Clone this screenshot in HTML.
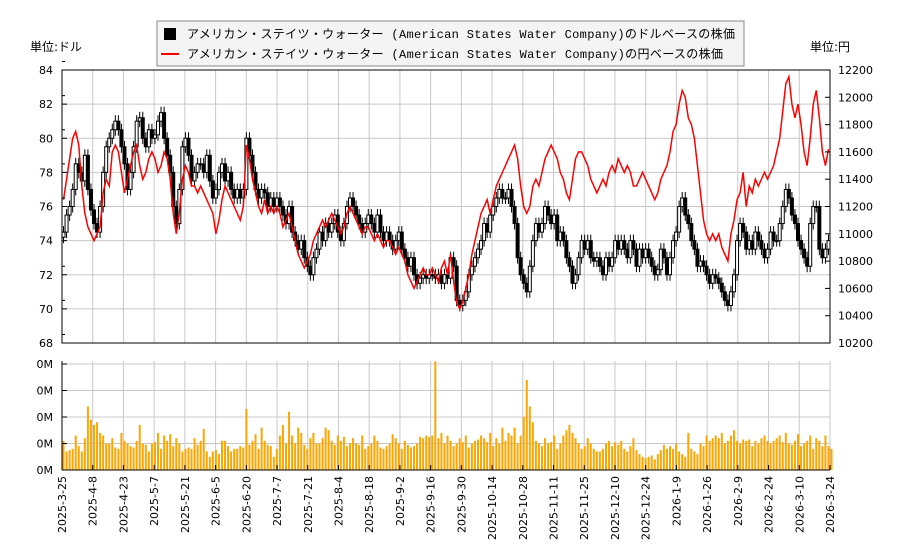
<!DOCTYPE html>
<html><head><meta charset="utf-8"><style>
body{margin:0;background:#fff;}
svg text{font-family:"DejaVu Sans","Noto Sans CJK JP",sans-serif;font-size:11px;fill:#000;}
</style></head><body>
<svg id="c" width="900" height="550" xmlns="http://www.w3.org/2000/svg"></svg>
<script>
const dates=["2025-3-25","2025-4-8","2025-4-23","2025-5-7","2025-5-21","2025-6-5","2025-6-20","2025-7-7","2025-7-21","2025-8-4","2025-8-18","2025-9-2","2025-9-16","2025-9-30","2025-10-14","2025-10-28","2025-11-11","2025-11-25","2025-12-10","2025-12-24","2026-1-9","2026-1-26","2026-2-9","2026-2-24","2026-3-10","2026-3-24"];
const usdTicks=[68,70,72,74,76,78,80,82,84];
const jpyTicks=[10200,10400,10600,10800,11000,11200,11400,11600,11800,12000,12200];
const volTicks=["0M","0M","0M","0M","0M"];
const closeUSD=[74.5,75.5,76,77,78.5,78,77.5,79,77,75.8,75,74.5,76,78,79.5,80,80.5,81,80.5,79.5,78.5,77,78,79.5,81,81.2,80,79.5,80.5,80,80.2,81,81.5,80,79,78,76,75,77,79.5,80,79,77.5,78,78.5,78.5,78,79,77.5,76.5,77,78,78.5,77.5,78,77,76.5,77,76.5,77,80,79,78,77,76.5,77,76.8,76,76.5,76,76.5,76,75.5,75,76,74.5,74,73.5,74,73,72.5,72,73,73.5,74.5,74,75,74.5,75,75.5,74.5,74,75,76,76.5,76,75.5,75,74.5,75,75.5,75,74.5,75.5,74.5,74,74.5,74,73.5,74,74.5,73.5,73,72.5,73,72,71.5,71.8,72,71.8,72,72,71.8,72,71.5,72,71.8,73,72.5,70.5,70.2,70.5,71,72,72.5,73,73.5,74,75,74.5,75.5,76,76.5,77,76.5,76.5,77,76,75,73,72,71.5,71,72.5,74,75,74.5,75,76,75.5,75,75.5,74,74.5,74,73,72.5,71.5,72,73,74,73.5,74,73,72.8,73,72.5,72,73,72.5,73,74,73.5,74,73.5,73,74,73.5,72.5,73.5,73,73.5,73,72.5,72,72.3,73.5,73,72,73,74,74.5,76,76.5,75.5,75,74,73.5,72.5,72.8,72.5,72,71.5,72,71.8,71.5,71,70.5,70.2,71,72,74,75,74.5,73.5,74,73.5,74.5,74,73.5,73,73.5,74.5,74,74,75,76,77,76.5,75.5,75,74,73.5,73,72.5,75,76,76,73.5,73,73.5,74];
const closeJPY=[11250,11400,11550,11700,11750,11650,11350,11150,11050,11000,10950,11000,11050,11300,11400,11350,11600,11650,11600,11450,11300,11400,11500,11600,11650,11500,11400,11450,11550,11600,11550,11450,11500,11600,11550,11400,11150,11000,11150,11400,11500,11450,11350,11350,11300,11350,11300,11250,11200,11150,11000,11100,11250,11350,11300,11250,11200,11150,11100,11200,11650,11550,11400,11300,11200,11150,11250,11150,11200,11150,11200,11150,11050,11100,11150,11050,10950,10850,10800,10750,10800,10850,10950,11000,11050,11100,11050,11100,11150,11100,11050,11000,11050,11150,11200,11150,11100,11050,11000,11050,11050,11000,10950,11000,10950,10900,10950,10950,10900,10850,10900,10850,10800,10700,10650,10600,10650,10700,10750,10700,10700,10750,10700,10650,10750,10800,10700,10850,10650,10500,10450,10500,10600,10700,10850,10950,11050,11150,11200,11250,11150,11250,11350,11400,11450,11500,11550,11600,11650,11550,11350,11200,11150,11200,11350,11400,11350,11450,11550,11600,11650,11600,11550,11450,11400,11300,11250,11400,11550,11600,11600,11550,11500,11400,11350,11300,11350,11400,11350,11450,11500,11450,11550,11500,11450,11500,11450,11350,11350,11400,11450,11400,11350,11300,11250,11300,11400,11450,11500,11600,11750,11800,11950,12050,12000,11850,11800,11700,11500,11300,11100,11000,10950,11000,10950,11000,10900,10850,10800,11000,11100,11250,11300,11450,11200,11350,11300,11400,11350,11400,11450,11400,11450,11500,11600,11700,11900,12100,12150,11950,11850,11950,11800,11600,11500,11700,11950,12050,11850,11600,11500,11620];
const volume=[1.1,0.7,0.75,0.8,1.3,0.9,0.7,1.2,2.4,1.9,1.7,1.8,1.4,1.3,1.0,1.0,1.2,0.85,0.8,1.4,1.1,1.0,0.9,0.85,1.1,1.7,1.0,0.95,0.7,1.0,1.05,1.4,0.8,1.3,1.1,1.35,0.9,1.2,1.0,0.7,0.8,0.85,0.8,1.2,0.95,1.1,1.55,0.7,0.5,0.7,0.75,0.6,1.1,1.1,0.9,0.7,0.8,0.8,0.9,0.85,2.3,0.95,1.1,1.35,0.8,1.6,1.1,0.95,0.9,0.5,0.8,1.3,1.7,1.0,2.2,1.3,1.0,1.6,1.4,0.95,0.8,1.2,1.4,1.0,1.0,1.2,1.6,1.5,1.1,0.95,1.3,1.1,1.25,0.9,1.0,1.2,1.0,0.95,1.3,0.8,0.9,1.0,1.3,1.1,0.85,0.8,0.9,1.0,1.35,1.2,1.0,0.8,1.1,0.95,0.85,0.9,1.0,1.25,1.2,1.3,1.25,1.3,4.1,1.2,1.4,1.0,1.3,1.1,0.9,1.0,1.2,1.05,1.3,0.85,1.0,1.1,1.15,1.3,1.2,1.05,1.4,0.9,1.2,1.0,1.6,1.1,1.4,1.3,1.6,1.0,1.3,2.0,3.4,2.4,1.8,1.1,1.0,0.9,1.2,1.0,1.05,1.3,0.8,1.0,1.3,1.5,1.7,1.4,1.2,1.0,0.8,0.9,1.2,1.0,0.8,0.7,0.7,0.8,1.0,1.1,0.9,1.05,0.95,1.1,0.8,0.7,0.9,1.2,0.75,0.6,0.5,0.45,0.5,0.55,0.4,0.6,0.75,0.95,0.8,0.9,0.8,1.0,0.7,0.6,0.5,1.4,0.8,0.7,0.6,1.0,0.9,1.3,1.1,1.2,1.3,1.2,1.4,1.0,1.1,1.3,1.5,1.1,1.0,1.15,1.1,1.15,0.9,1.1,1.0,1.2,1.3,1.1,1.0,1.1,1.2,1.3,1.05,1.4,1.0,0.95,1.1,1.35,0.9,1.0,1.1,1.3,0.8,1.2,1.1,0.9,1.3,0.9,0.8];
const NS="http://www.w3.org/2000/svg", svg=document.getElementById('c');
function mk(t,a,p){const e=document.createElementNS(NS,t);for(const k in a)e.setAttribute(k,a[k]);(p||svg).appendChild(e);return e;}
const L=62,R=830,PT=70,PB=343,VT=361,VB=470;
const N=closeUSD.length, step=(R-L)/N;
const xi=i=>L+step*(i+0.5);
const yU=v=>PB-(v-68)/(84-68)*(PB-PT);
const yJ=v=>PB-(v-10200)/(12200-10200)*(PB-PT);
const yV=v=>VB-v/4*(VB-364);
const gx=k=>L+k*(R-L)/25.0;
const g=mk('g',{});


usdTicks.forEach(t=>mk('line',{x1:L,x2:R,y1:yU(t),y2:yU(t),stroke:'#c8c8c8'},g));
dates.forEach((d,k)=>{mk('line',{x1:gx(k),x2:gx(k),y1:PT,y2:PB,stroke:'#c8c8c8'},g);mk('line',{x1:gx(k),x2:gx(k),y1:VT,y2:VB,stroke:'#c8c8c8'},g);});
for(let j=0;j<5;j++){const y=yV(j);mk('line',{x1:L,x2:R,y1:y,y2:y,stroke:'#c8c8c8'},g);}
const vg=mk('g',{});


volume.forEach((v,i)=>{const b=mk('rect',{x:xi(i)-1,y:yV(v),width:2,height:VB-yV(v),fill:'#FFA500'},vg);

});
const cg=mk('g',{});


closeUSD.forEach((c,i)=>{const o=i?closeUSD[i-1]:c-0.3;const hi=Math.max(o,c)+0.35,lo=Math.min(o,c)-0.35;const x=xi(i);
mk('line',{x1:x,x2:x,y1:yU(hi),y2:yU(lo),stroke:'#000'},cg);
const up=c>=o;const y1=yU(Math.max(o,c)),h=Math.max(1,yU(Math.min(o,c))-y1);
const r=mk('rect',{x:x-1.5,y:y1,width:3,height:h,fill:up?'#fff':'#000',stroke:'#000','stroke-width':1},cg);

});
const pl=mk('polyline',{points:closeJPY.map((v,i)=>xi(i)+','+yJ(v)).join(' '),fill:'none',stroke:'#ff0000','stroke-width':1.5});


mk('rect',{x:L,y:PT,width:R-L,height:PB-PT,fill:'none',stroke:'#000'});
mk('line',{x1:L,x2:L,y1:VT,y2:VB,stroke:'#000'});mk('line',{x1:L,x2:R,y1:VB,y2:VB,stroke:'#000'});
usdTicks.forEach(t=>{const y=yU(t);mk('line',{x1:L,x2:L+5,y1:y,y2:y,stroke:'#000'});mk('line',{x1:L,x2:L+3,y1:y-8.5,y2:y-8.5,stroke:'#000'});
const tx=mk('text',{x:53,y:y+4,'text-anchor':'end'});tx.textContent=t;

});
jpyTicks.forEach(t=>{const y=yJ(t);mk('line',{x1:R-5,x2:R,y1:y,y2:y,stroke:'#000'});
const tx=mk('text',{x:838,y:y+4});tx.textContent=t;

});
volTicks.forEach((t,j)=>{const y=yV(j);mk('line',{x1:L,x2:L+5,y1:y,y2:y,stroke:'#000'});
const tx=mk('text',{x:53,y:y+4,'text-anchor':'end'});tx.textContent=t;

});
dates.forEach((d,k)=>{const x=gx(k);mk('line',{x1:x,x2:x,y1:VB-5,y2:VB,stroke:'#000'});
const tx=mk('text',{x:0,y:0,'text-anchor':'end',transform:`translate(${x+4},476) rotate(-90)`});tx.textContent=d;

});
</script>
<svg style="position:absolute;left:0;top:0" width="900" height="80" xmlns="http://www.w3.org/2000/svg">
<text x="30" y="51" style="font-size:12px">単位:ドル</text>
<text x="810" y="51" style="font-size:12px">単位:円</text>
<g>
<rect x="157" y="21" width="587" height="45" fill="#f4f4f4" stroke="#888"/>
<rect x="164" y="28" width="12" height="12" fill="#000"/>
<text x="187" y="38" textLength="548" lengthAdjust="spacing" style="font-size:12px;font-family:'Liberation Mono','Noto Sans CJK JP',monospace">アメリカン・ステイツ・ウォーター (American States Water Company)のドルベースの株価</text>
<line x1="161" x2="179" y1="54" y2="54" stroke="#ff0000" stroke-width="2"/>
<text x="187" y="58" textLength="536" lengthAdjust="spacing" style="font-size:12px;font-family:'Liberation Mono','Noto Sans CJK JP',monospace">アメリカン・ステイツ・ウォーター (American States Water Company)の円ベースの株価</text>
</g>
</svg>
</body></html>
